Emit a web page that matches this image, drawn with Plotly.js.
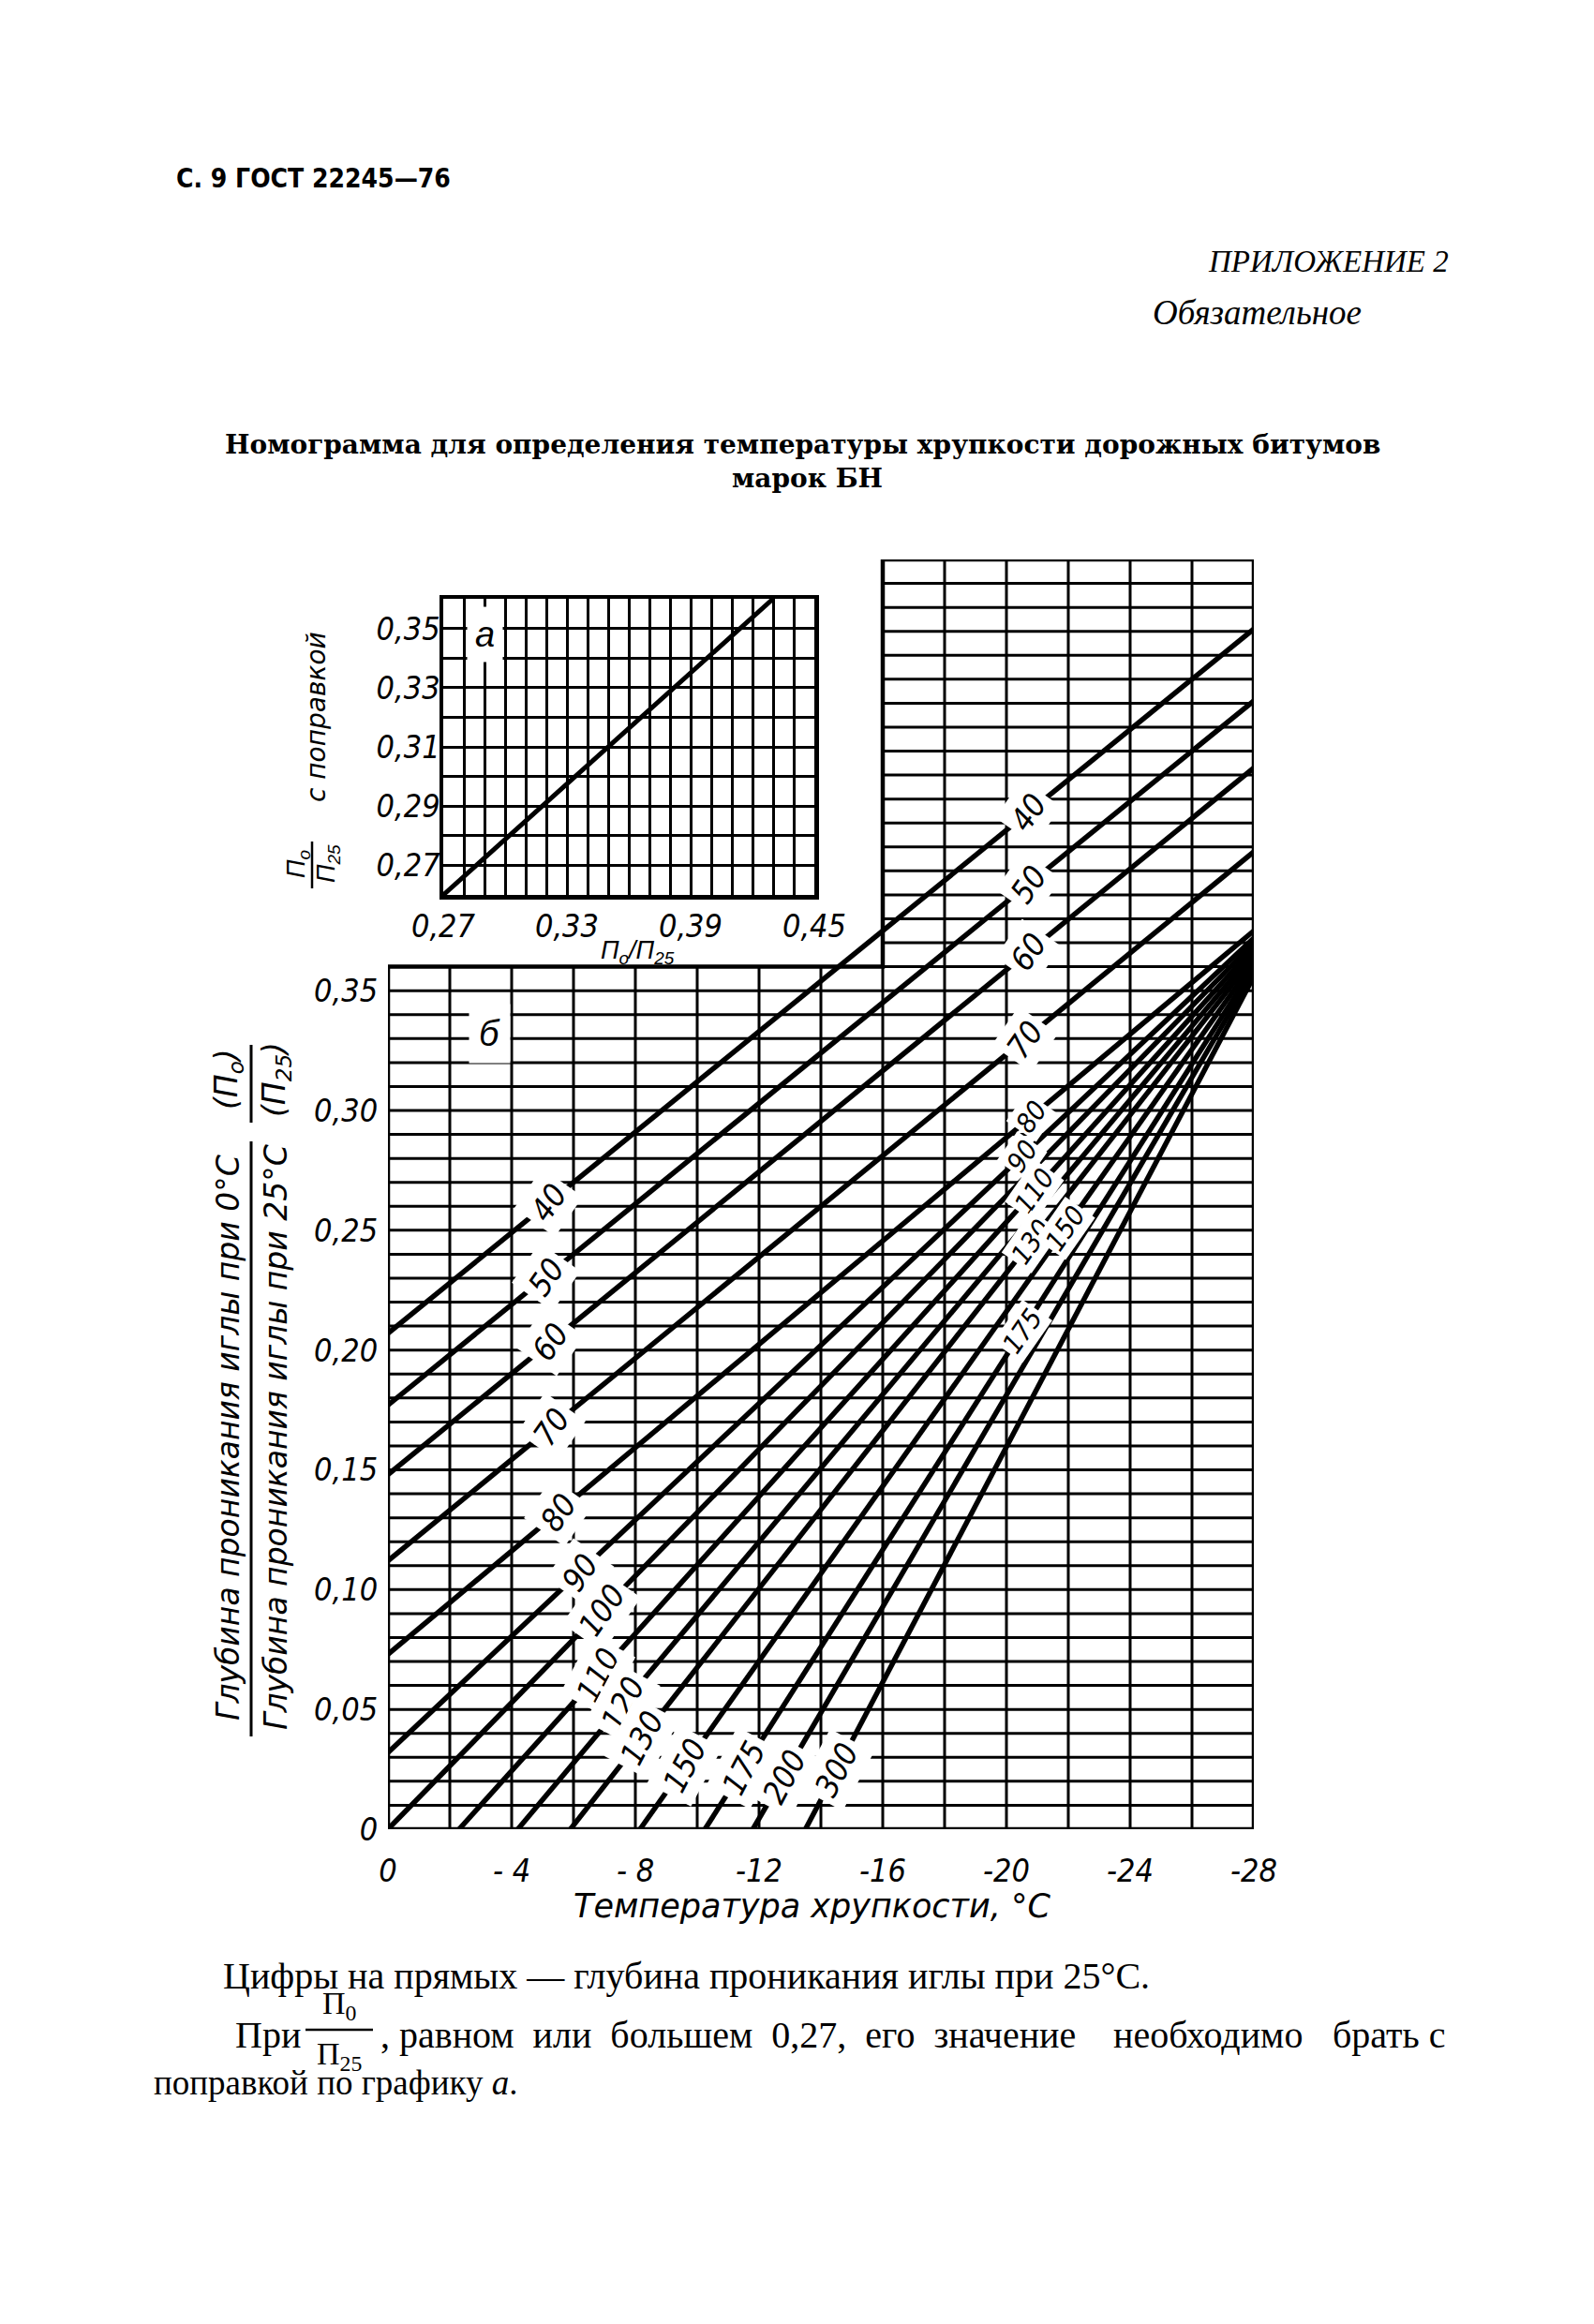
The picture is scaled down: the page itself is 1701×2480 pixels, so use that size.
<!DOCTYPE html>
<html><head><meta charset="utf-8">
<script src="https://cdn.plot.ly/plotly-3.0.1.min.js"></script>
<style>html,body{margin:0;padding:0;background:#fff}</style>
</head><body>
<div id="chart" style="width:1701px;height:2480px"></div>
<script>
// ---------------- data ----------------
const penetration = [40, 50, 60, 70, 80, 90, 100, 110, 120, 130, 150, 175, 200, 300];
const startTemp  = [0, 0, 0, 0, 0, 0, 0, -2.3, -4.2, -5.9, -8.15, -10.25, -11.8, -13.5];
const startRatio = [0.207, 0.177, 0.148, 0.112, 0.073, 0.032, 0, 0, 0, 0, 0, 0, 0, 0];
const endTemp    = [-28, -28, -28, -28, -28, -28, -28, -28, -28, -28, -28, -28, -28, -28];
const endRatio   = [0.501, 0.471, 0.443, 0.408, 0.375, 0.372, 0.370, 0.368, 0.366, 0.364, 0.362, 0.360, 0.358, 0.356];

const tempTicks = [0, -4, -8, -12, -16, -20, -24, -28];
const tempTickText = ['0', '- 4', '- 8', '-12', '-16', '-20', '-24', '-28'];
const ratioTicksLeft = [0, 0.05, 0.10, 0.15, 0.20, 0.25, 0.30, 0.35];
const ratioTickTextLeft = ['0', '0,05', '0,10', '0,15', '0,20', '0,25', '0,30', '0,35'];
const ratioTicksRight = [0, 0.05, 0.10, 0.15, 0.20, 0.25, 0.30, 0.35, 0.40, 0.45, 0.50];
const ratioTickTextRight = ['0', '0,05', '0,10', '0,15', '0,20', '0,25', '0,30', '0,35', '0,40', '0,45', '0,50'];

// inset "a": correction graph
const insetRatio = [0.27, 0.43];
const insetCorrected = [0.26, 0.36];
const insetXTicks = [0.27, 0.33, 0.39, 0.45];
const insetXTickText = ['0,27', '0,33', '0,39', '0,45'];
const insetYTicks = [0.27, 0.29, 0.31, 0.33, 0.35];
const insetYTickText = ['0,27', '0,29', '0,31', '0,33', '0,35'];

// ---------------- layout helpers ----------------
const W = 1701, H = 2480;
const px = x => x / W;
const py = y => 1 - y / H;
const NARROW = 'Liberation Sans Narrow, DejaVu Sans Condensed, sans-serif';
const SANS = 'Liberation Sans, DejaVu Sans, sans-serif';
const DJ = 'DejaVu Sans, Liberation Sans, sans-serif';
const SERIF = 'Liberation Serif, DejaVu Serif, serif';
const DJSERIF = 'DejaVu Serif, Liberation Serif, serif';
const NB = '\u00A0';

// grid extents of the L-shaped main field
const lowTop = 0.36, upTop = 0.53, upLeft = -16, tMin = -28;

// label placement along the lines (temperature where label sits)
const lowerLabelT = [-5.2, -5.1, -5.25, -5.3, -5.5, -6.2, -6.9, -6.8, -7.6, -8.2, -9.6, -11.5, -12.8, -14.5];
const upperLabelT = {40: -20.7, 50: -20.7, 60: -20.7, 70: -20.6, 80: -20.8, 90: -20.5, 110: -20.9, 130: -20.8, 150: -21.9, 175: -20.5};

function lineAt(i, t) {
  return startRatio[i] + (t - startTemp[i]) * (endRatio[i] - startRatio[i]) / (endTemp[i] - startTemp[i]);
}

const traces = penetration.map((p, i) => ({
  type: 'scatter', mode: 'lines', xaxis: 'x', yaxis: 'y',
  x: [startTemp[i], endTemp[i]], y: [startRatio[i], endRatio[i]],
  line: {color: '#000', width: 5.5}, hoverinfo: 'skip', showlegend: false
}));
traces.push({
  type: 'scatter', mode: 'lines', xaxis: 'x3', yaxis: 'y3',
  x: insetRatio, y: insetCorrected,
  line: {color: '#000', width: 5}, hoverinfo: 'skip', showlegend: false
});

// grid shapes for main L-shaped field
const shapes = [];
const gw = 3;
for (let k = 0; k <= 14; k++) {
  const t = -2 * k;
  shapes.push({type: 'line', xref: 'x', yref: 'y', x0: t, x1: t, y0: 0, y1: (t <= upLeft ? upTop : lowTop),
    line: {color: '#000', width: gw}, layer: 'below'});
}
for (let k = 0; k <= 53; k++) {
  const v = k / 100;
  shapes.push({type: 'line', xref: 'x', yref: 'y', x0: (v <= lowTop + 1e-9 ? 0 : upLeft), x1: tMin, y0: v, y1: v,
    line: {color: '#000', width: gw}, layer: 'below'});
}
// outline
shapes.push({type: 'path', xref: 'x', yref: 'y', layer: 'below',
  path: `M 0 0 L ${tMin} 0 L ${tMin} ${upTop} L ${upLeft} ${upTop} L ${upLeft} ${lowTop} L 0 ${lowTop} Z`,
  line: {color: '#000', width: 4.5}});
const pline = (x0, y0, x1, y1, w) => ({type: 'line', xref: 'paper', yref: 'paper',
  x0: px(x0), x1: px(x1), y0: py(y0), y1: py(y1), line: {color: '#000', width: w}});
// fraction bars of the main y title
shapes.push(pline(268, 1218, 268, 1853, 3));
shapes.push(pline(268, 1115, 268, 1198, 3));
// fraction bar of inset title
shapes.push(pline(333, 898, 333, 948, 2.5));
// fraction bar in note
shapes.push(pline(326, 2166, 398, 2166, 2.5));

const ann = [];
function txt(x, y, text, font, extra) {
  ann.push(Object.assign({xref: 'paper', yref: 'paper', x: px(x), y: py(y), text: text, showarrow: false,
    xanchor: 'center', yanchor: 'middle', font: font}, extra || {}));
}
const labFont = {family: NARROW, size: 34, color: '#000', style: 'italic'};
const labFontSmall = {family: NARROW, size: 29, color: '#000', style: 'italic'};
penetration.forEach((p, i) => {
  const t = lowerLabelT[i];
  ann.push({xref: 'x', yref: 'y', x: t, y: lineAt(i, t), text: String(p), showarrow: false,
    xanchor: 'center', yanchor: 'middle',
    textangle: (p >= 110 ? -62 : -55), font: labFont, bgcolor: '#fff', borderpad: 6});
  if (upperLabelT[p] !== undefined) {
    const tu = upperLabelT[p];
    ann.push({xref: 'x', yref: 'y', x: tu, y: lineAt(i, tu), text: String(p), showarrow: false,
      xanchor: 'center', yanchor: 'middle',
      textangle: -55, font: (p <= 70 ? labFont : labFontSmall), bgcolor: '#fff', borderpad: (p <= 70 ? 5 : 2)});
  }
});
// panel letters
ann.push({xref: 'x', yref: 'y', x: -3.3, y: 0.332, text: 'б', showarrow: false, xanchor: 'center', yanchor: 'middle',
  font: {family: SANS, size: 38, color: '#000', style: 'italic'}, bgcolor: '#fff', borderpad: 10});
ann.push({xref: 'x3', yref: 'y3', x: 0.29, y: 0.348, text: 'а', showarrow: false, xanchor: 'center', yanchor: 'middle',
  font: {family: SANS, size: 38, color: '#000', style: 'italic'}, bgcolor: '#fff', borderpad: 8});

const titleFont = {family: DJ, size: 33, color: '#000', style: 'italic'};
// main y title (two stacked fractions, rotated)
txt(243, 1534, 'Глубина проникания иглы при 0°С', titleFont, {textangle: -90});
txt(294, 1534, 'Глубина проникания иглы при 25°С', titleFont, {textangle: -90});
txt(243, 1152, '(П<sub>о</sub>)', titleFont, {textangle: -90});
txt(294, 1152, '(П<sub>25</sub>)', titleFont, {textangle: -90});
// main x title
txt(866, 2034, 'Температура хрупкости, °С', {family: DJ, size: 35, color: '#000', style: 'italic'});
// inset titles
txt(680, 1016, 'П<sub>о</sub>/П<sub>25</sub>', {family: SANS, size: 27, color: '#000', style: 'italic'});
txt(337, 765, 'с поправкой', {family: DJ, size: 28, color: '#000', style: 'italic'}, {textangle: -90});
txt(318, 922, 'П<sub>о</sub>', {family: SANS, size: 27, color: '#000', style: 'italic'}, {textangle: -90});
txt(350, 922, 'П<sub>25</sub>', {family: SANS, size: 27, color: '#000', style: 'italic'}, {textangle: -90});

// page texts
txt(186, 190, '<b>С. 9 ГОСТ 22245—76</b>', {family: NARROW, size: 28, color: '#000'}, {xanchor: 'left'});
txt(1548, 279, 'ПРИЛОЖЕНИЕ 2', {family: SERIF, size: 33, color: '#000', style: 'italic'}, {xanchor: 'right'});
txt(1228, 334, 'Обязательное', {family: SERIF, size: 37, color: '#000', style: 'italic'}, {xanchor: 'left'});
txt(856, 474, '<b>Номограмма для определения температуры хрупкости дорожных битумов</b>', {family: DJSERIF, size: 28, color: '#000'});
txt(861, 510, '<b>марок БН</b>', {family: DJSERIF, size: 28, color: '#000'});
const bodyFont = {family: SERIF, size: 40, color: '#000'};
txt(236, 2108, 'Цифры на прямых — глубина проникания иглы при 25°С.', bodyFont, {xanchor: 'left'});
txt(249, 2171, 'При', bodyFont, {xanchor: 'left'});
txt(362, 2140, 'П<sub>0</sub>', {family: SERIF, size: 34, color: '#000'});
txt(362, 2194, 'П<sub>25</sub>', {family: SERIF, size: 34, color: '#000'});
txt(404, 2171, [', равном', 'или', 'большем', '0,27,', 'его', 'значение'].join(' ' + NB), bodyFont, {xanchor: 'left'});
txt(1186, 2171, 'необходимо', bodyFont, {xanchor: 'left'});
txt(1545, 2171, 'брать с', bodyFont, {xanchor: 'right'});
txt(162, 2222, 'поправкой по графику <i>а</i>.', {family: SERIF, size: 37, color: '#000'}, {xanchor: 'left'});

const tickFont = {family: NARROW, size: 34, color: '#000', style: 'italic'};
const layout = {
  width: W, height: H, margin: {l: 0, r: 0, t: 0, b: 0},
  paper_bgcolor: '#fff', plot_bgcolor: 'rgba(0,0,0,0)', showlegend: false,
  xaxis: {domain: [px(414), px(1338)], range: [0, tMin], showgrid: false, zeroline: false, showline: false,
    tickmode: 'array', tickvals: tempTicks, ticktext: tempTickText, ticks: 'outside', ticklen: 14, tickcolor: 'rgba(0,0,0,0)', tickfont: tickFont},
  yaxis: {domain: [py(1952), py(597)], range: [0, upTop], showgrid: false, zeroline: false, showline: false,
    tickmode: 'array', tickvals: ratioTicksLeft, ticktext: ratioTickTextLeft, ticks: 'outside', ticklen: 3, tickcolor: 'rgba(0,0,0,0)', tickfont: tickFont},
  yaxis2: {overlaying: 'y', side: 'right', anchor: 'x', range: [0, upTop], showgrid: false, zeroline: false, showline: false,
    tickmode: 'array', tickvals: ratioTicksRight, ticktext: ratioTickTextRight, ticks: 'outside', ticklen: 5, tickcolor: 'rgba(0,0,0,0)', tickfont: tickFont},
  xaxis3: {domain: [px(473), px(869)], anchor: 'y3', range: [0.27, 0.45],
    showgrid: true, gridcolor: '#000', gridwidth: 3, zeroline: false, showline: true, mirror: true, linecolor: '#000', linewidth: 4.5,
    tickmode: 'array', tickvals: insetXTicks, ticktext: insetXTickText, ticks: '', tickfont: tickFont,
    minor: {dtick: 0.01, tick0: 0.27, showgrid: true, gridcolor: '#000', gridwidth: 3, ticks: ''}},
  yaxis3: {domain: [py(955), py(639)], anchor: 'x3', range: [0.26, 0.36],
    showgrid: true, gridcolor: '#000', gridwidth: 3, zeroline: false, showline: true, mirror: true, linecolor: '#000', linewidth: 4.5,
    tickmode: 'array', tickvals: insetYTicks, ticktext: insetYTickText, ticks: '', tickfont: tickFont, ticklabelstandoff: -8,
    minor: {dtick: 0.01, tick0: 0.26, showgrid: true, gridcolor: '#000', gridwidth: 3, ticks: ''}},
  shapes: shapes, annotations: ann
};

Plotly.newPlot('chart', traces, layout, {staticPlot: true});
</script>
</body></html>
